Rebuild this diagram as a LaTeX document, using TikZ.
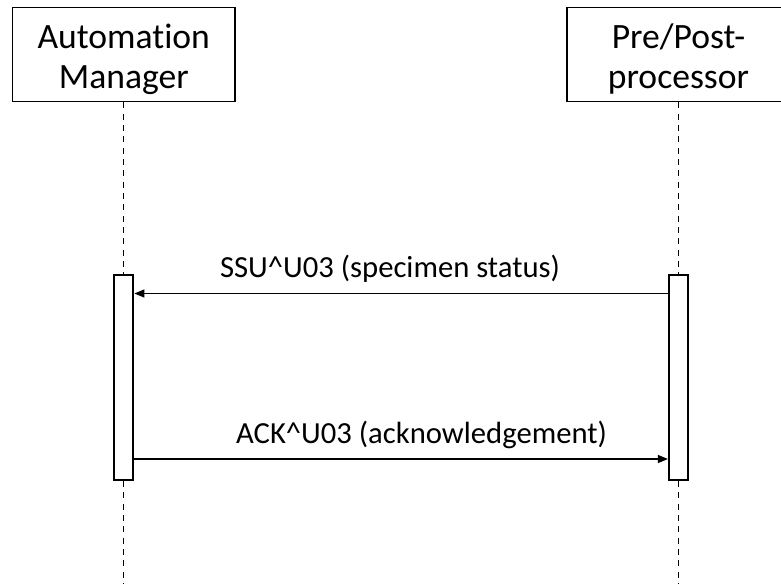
\documentclass[tikz,border=0pt]{standalone}
\usepackage{fontspec}
\setmainfont{Carlito}[Ligatures=NoCommon]
\usetikzlibrary{arrows.meta}

\tikzset{
  actor/.style={draw, line width=1.4pt, minimum width=166.9pt, minimum height=70.5pt, align=center, inner sep=0pt, font=\fontsize{26.7}{30}\selectfont},
  actbar/.style={draw, line width=1.4pt, fill=white, minimum width=14.5pt, minimum height=153.75pt, inner sep=0pt},
  lifeline/.style={line width=1pt, dash pattern=on 4.5pt off 4pt},
  msg/.style={line width=1pt, -{Triangle[length=7.5pt,width=6pt]}},
  msglabel/.style={anchor=base, inner sep=0pt, font=\fontsize{23}{27}\selectfont}
}
\newcommand{\topgap}{\rule{0pt}{25pt}}

\begin{document}
\begin{tikzpicture}[x=0.75pt,y=0.75pt,yscale=-1,xscale=1]
\useasboundingbox (0,0) rectangle (781,584);

% Actors
\node[actor] (am) at (123.75,54.5) {\topgap Automation\\Manager};
\node[actor] (pp) at (678.5,54.5) {\topgap Pre/Post-\\processor};

\coordinate (bottom) at (0,584);
\coordinate (m1) at (0,293.5);
\coordinate (m2) at (0,459);

% Activation bars
\node[actbar] (amact) at (123.75,377.5) {};
\node[actbar] (ppact) at (678.5,377.5) {};

% Lifelines
\draw[lifeline] (am.south) -- (amact.north);
\draw[lifeline] (amact.south) -- (amact.south |- bottom);
\draw[lifeline] (pp.south) -- (ppact.north);
\draw[lifeline] (ppact.south) -- (ppact.south |- bottom);

% Messages
\draw[msg] (ppact.west |- m1) -- (amact.east |- m1);
\draw[msg] (amact.east |- m2) -- (ppact.west |- m2);

% Text Node
\node[msglabel] (ssu) at (390,278) {SSU\textasciicircum U03 (specimen status)};
% Text Node
\node[msglabel] (ack) at (421.5,443) {ACK\textasciicircum U03 (acknowledgement)};

\end{tikzpicture}
\end{document}
